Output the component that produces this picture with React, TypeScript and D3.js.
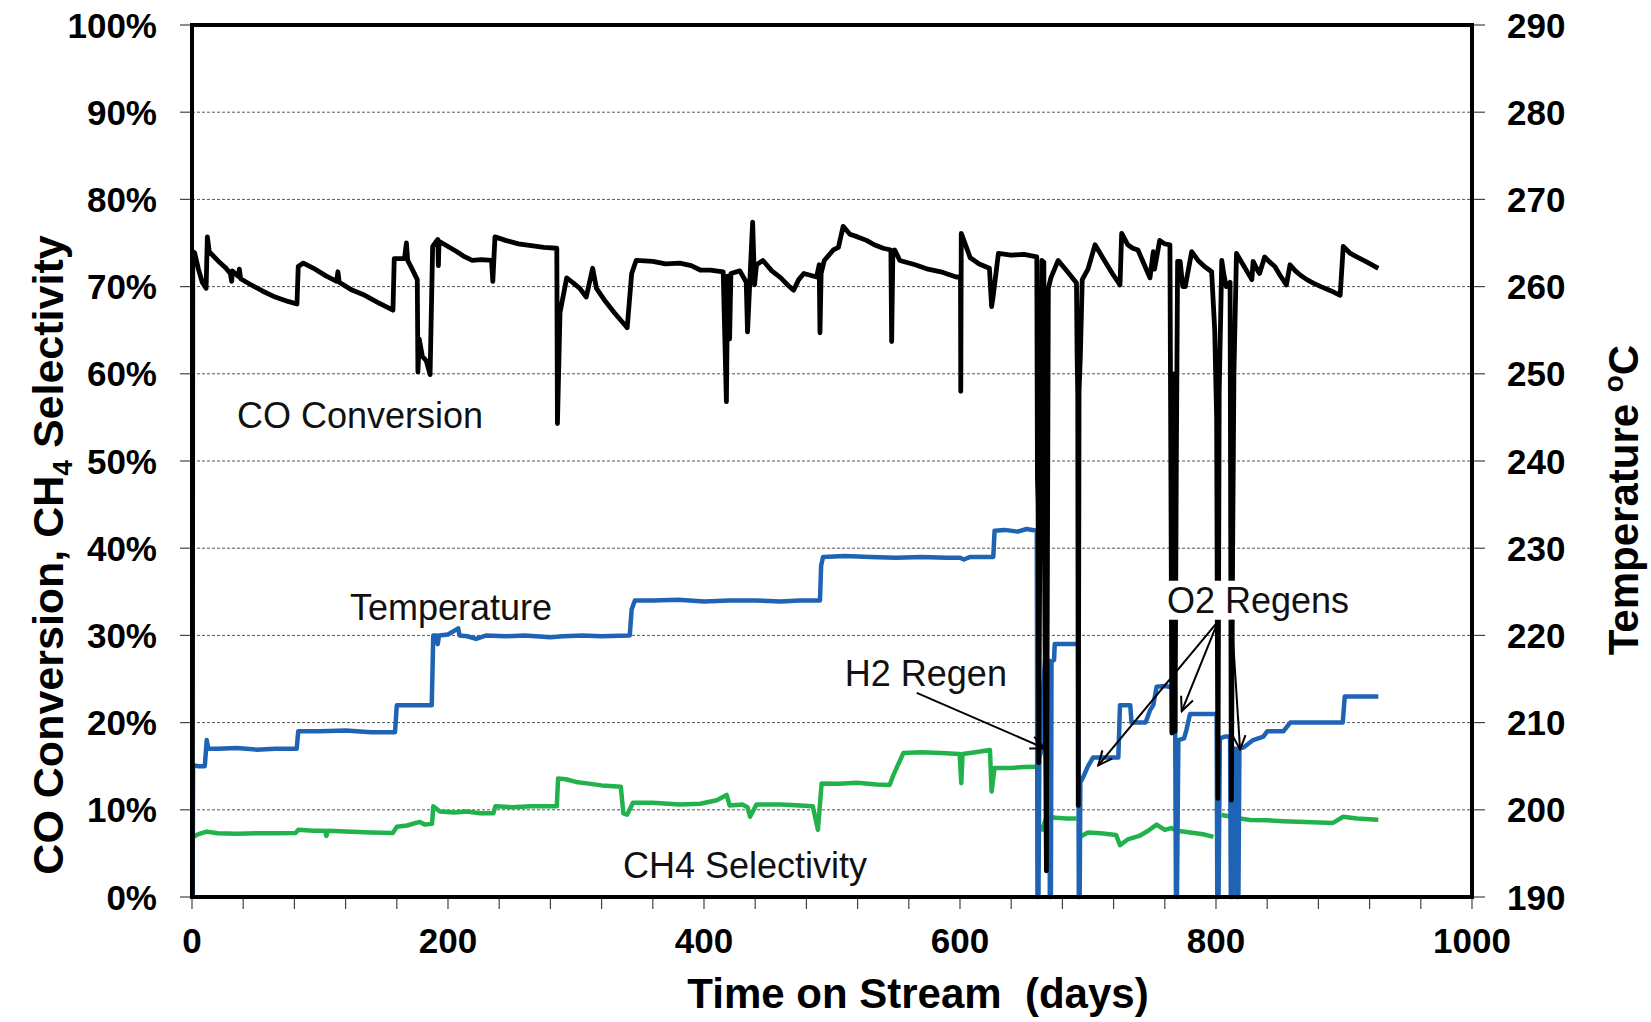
import { useEffect, useRef } from 'react'
import * as d3 from 'd3'

const W = 1651
const H = 1022

// axis ticks
const X_TICKS = [0, 40, 80, 120, 160, 200, 240, 280, 320, 360, 400, 440, 480, 520, 560, 600, 640, 680, 720, 760, 800, 840, 880, 920, 960, 1000]
const X_LABELS = [0, 200, 400, 600, 800, 1000]
const LEFT_TICKS = [0, 10, 20, 30, 40, 50, 60, 70, 80, 90, 100]
const RIGHT_TICKS = [190, 200, 210, 220, 230, 240, 250, 260, 270, 280, 290]

type Pt = [number, number | null]

// CO conversion, % (day, value)
const coConversion: Pt[] = [
  [0.3, 0], [0.6, 74], [2, 73.9], [5, 72], [8, 70.5], [11, 69.8], [12, 75.7], [13.5, 74], [20, 73], [26, 72.2],
  [30, 71.5], [31, 70.6], [31.5, 71.8], [36, 71.2], [37, 72], [38, 70.9], [45, 70.3], [55, 69.5], [65, 68.8],
  [75, 68.3], [82, 68], [83, 72.3], [87, 72.7], [95, 72.1], [105, 71.2], [113, 70.6], [114, 71.7], [115, 70.5],
  [125, 69.6], [135, 69], [145, 68.2], [157, 67.3], [158, 73.2], [166, 73.2], [167.5, 75], [168.5, 73], [172, 72],
  [176, 70.8], [176.5, 60.2], [177.5, 64], [180, 62], [183, 61.5], [186, 59.9], [188, 74.6], [190, 75], [192, 75.4],
  [192.5, 72.4], [193, 75.2], [200, 74.6], [207, 74], [212, 73.5], [219, 73], [226, 73.1], [234, 73], [235, 70.6],
  [236.7, 75.7], [245, 75.3], [255, 74.9], [265, 74.7], [275, 74.5], [285, 74.4], [285.5, 54.3], [287.5, 67],
  [292.7, 71], [298, 70.4], [303, 69.8], [308, 68.8], [313, 72.1], [316, 69.8], [322, 68.5], [330, 67], [337, 65.8],
  [340, 65.3], [343.5, 71.5], [347, 73], [360, 72.9], [370, 72.6], [381, 72.7], [390, 72.4], [397, 71.9], [405, 71.9],
  [415, 71.7], [417.5, 56.8], [418.5, 71.2], [420, 64], [421, 71.5], [428, 71.8], [433, 70.5], [434, 64.8], [436, 71.2],
  [438, 77.4], [439.5, 70.2], [441, 72.5], [446, 73], [453, 71.8], [460, 71], [466, 70.1], [470, 69.6], [474, 70.8],
  [478, 71.5], [488, 71.1], [490, 72.5], [490.6, 64.7], [491.5, 71.5], [494, 73], [501, 74.2], [505, 74.5],
  [508.7, 76.9], [514, 76], [520, 75.7], [527, 75.3], [533, 74.8], [540, 74.4], [546, 74.2], [546.6, 63.7],
  [547.5, 73.4], [549, 74.2], [553, 73], [565, 72.5], [575, 72], [585, 71.7], [597, 71.1], [600.4, 71.1], [600.6, 58],
  [601, 76.1], [608, 73.3], [615, 72.6], [623, 72.1], [624.7, 67.7], [626, 69], [630, 73.8], [640, 73.6], [650, 73.7],
  [660, 73.4], [660.5, 48], [661, 45], [661.5, 15.4], [662.5, 45], [664, 73], [665.5, 72.8], [666, 40], [667.5, 3],
  [669, 69.8], [671, 71], [676.7, 73], [684, 71.7], [691, 70.4], [691.5, 62], [692, 57.5], [692.4, 10.5], [693, 58],
  [694, 62], [695.5, 70.8], [700, 72], [705.5, 74.8], [712, 73.2], [719, 71.5], [725, 70.2], [726.3, 76.1], [731, 74.8],
  [735, 74.4], [739, 74.2], [744, 72.5], [748.4, 71], [751, 74], [752, 72], [756, 75.3], [760, 74.9], [764, 74.8],
  [765, 40], [765.5, 18.8], [767, 60], [768, 19], [769, 50], [770, 72.9], [772, 72.9], [774, 70], [776, 70], [781, 74],
  [786, 73], [791, 72.3], [796.6, 71.7], [799, 65], [800.5, 55], [801.5, 11.3], [802.5, 58], [804.5, 73], [806, 71.5],
  [808, 70], [811, 70.5], [812, 11.1], [813, 40], [814, 60], [816, 73.8], [820, 72.8], [824, 71.8], [828, 70.8],
  [829, 72.9], [832, 72], [834, 71.5], [838, 73.4], [842, 72.8], [846, 72.3], [850, 71.3], [855, 70.2], [857.8, 72.5],
  [862, 71.8], [866, 71.3], [871, 70.8], [876, 70.4], [882, 70], [890, 69.5], [897, 69], [899.4, 74.6], [905, 73.8],
  [910, 73.4], [918, 72.8], [926.8, 72.1],
]

// reactor temperature, °C (day, value)
const temperature: Pt[] = [
  [0.5, 190], [0.8, 205.1], [5, 205], [10, 205], [11.5, 208], [12.7, 207], [20, 207], [35, 207.1], [50, 206.9],
  [65, 207], [81.8, 207], [83, 209], [100, 209], [120, 209.1], [140, 208.9], [158.6, 208.9], [160, 212], [175, 212],
  [187.3, 212], [188.5, 220], [191, 220], [192, 219], [193, 220], [200, 220.1], [208, 220.8], [209, 220], [215, 219.9],
  [222, 219.6], [230, 220], [245, 219.9], [260, 220], [280, 219.8], [290, 219.9], [305, 220], [320, 219.9], [342, 220],
  [343.5, 223], [346, 224], [360, 224], [380, 224.1], [400, 223.9], [420, 224], [440, 224], [460, 223.9], [475, 224],
  [490.6, 224], [491.5, 228], [493, 229], [510, 229.1], [530, 229], [550, 228.9], [570, 229], [590, 228.9], [600, 228.9],
  [603, 228.7], [608, 229], [626, 229], [627, 232], [635, 232.1], [645, 231.9], [652, 232.2], [660, 232], [660.5, 190],
  [661.3, 190], [662, 206], [664, 207], [665, 214], [666.5, 217.1], [669.5, 217.1], [670.2, 190], [671, 190],
  [671.5, 217], [673.5, 217.2], [674, 219], [682, 219], [692.4, 219], [692.8, 190], [693.5, 190], [694, 203.1],
  [697, 204], [700, 205], [704, 206], [710, 206], [723.7, 206], [725, 212], [733, 212], [734, 210], [745, 210],
  [748.4, 211.4], [751, 212], [753.6, 214.1], [760, 214.2], [768, 214], [768.7, 190], [769.5, 190], [770.6, 208],
  [775, 208.2], [777, 209.2], [779.7, 211], [790, 211], [800.5, 211], [801, 190], [802, 190], [803, 208.2], [807, 208.4],
  [811, 208.4], [811.6, 190], [812.6, 190], [813.2, 207], [815.5, 207], [816.2, 190], [817.5, 190], [818.3, 207],
  [822, 207.2], [829, 208], [837, 208.4], [840, 209], [852.6, 209], [858, 210], [870, 210], [885, 210], [899, 210],
  [900.6, 213], [910, 213], [926.8, 213],
]

// CH4 selectivity, % (day, value); null = no data
const ch4Selectivity: Pt[] = [
  [0.5, 6.9], [5, 7.2], [11.5, 7.5], [20, 7.3], [35, 7.25], [50, 7.3], [65, 7.3], [81, 7.35], [83, 7.7], [95, 7.6],
  [104, 7.6], [105, 7.0], [106, 7.6], [120, 7.5], [140, 7.4], [157, 7.35], [160, 8.05], [168, 8.2], [175, 8.5],
  [178, 8.6], [182, 8.3], [187.5, 8.4], [188.5, 10.4], [193.7, 9.8], [205, 9.7], [215, 9.8], [225, 9.6], [235.4, 9.6],
  [237, 10.4], [250, 10.3], [265, 10.4], [285, 10.4], [286, 13.6], [292, 13.5], [300, 13.2], [310, 13], [320, 12.8],
  [335, 12.65], [337, 9.6], [340, 9.45], [344.5, 10.8], [360, 10.8], [381, 10.6], [397, 10.7], [410, 11.1],
  [417.7, 11.7], [420, 10.5], [430, 10.6], [434, 10.3], [436, 9.2], [441, 10.6], [460, 10.6], [475, 10.5], [485, 10.4],
  [489, 7.7], [491.9, 13.03], [505, 13], [520, 13.1], [535, 12.9], [545, 12.85], [548, 14], [555.7, 16.5], [570, 16.6],
  [585, 16.5], [599.7, 16.4], [601, 13.05], [602, 16.4], [612, 16.6], [623.4, 16.85], [624.7, 12.1], [627, 14.8],
  [640, 14.8], [650, 14.9], [660, 14.95], [661, null], [663.6, 7.5], [667.7, 9.2], [675, 9.1], [683, 9.0], [691, 9.0],
  [692, null], [693.8, 6.9], [700, 7.4], [710, 7.3], [722, 7.1], [725, 5.95], [731, 6.6], [740, 7], [747, 7.6],
  [753.6, 8.3], [760, 7.7], [765, 7.9], [769.7, 7.6], [780, 7.4], [790, 7.2], [798, 6.9], [800, null], [804.4, 9.4],
  [812, 9.2], [819, 9.0], [826.6, 8.83], [840, 8.8], [852.6, 8.7], [870, 8.6], [891.4, 8.5], [899.4, 9.2], [910, 9.0],
  [926.8, 8.85],
]

// in-plot labels: [text, day, left-axis %]
const seriesLabels: [string, number, number][] = [
  ['CO Conversion', 35.2, 53.8],
  ['Temperature', 123.4, 31.8],
  ['CH4 Selectivity', 336.7, 2.2],
  ['H2 Regen', 510, 24.2],
]
const o2Label: [string, number, number] = ['O2 Regens', 761.7, 32.6]

// arrows: [fromDay, fromPct, toDay, toPct]
const arrows: [number, number, number, number][] = [
  [566.2, 23.4, 666.2, 17.05],
  [801.6, 31.6, 708, 15.1],
  [801.6, 31.6, 773.2, 21.3],
  [812.3, 31.8, 818.8, 16.9],
]

const FONT = "'Liberation Sans', Arial, Helvetica, sans-serif"

export default function App() {
  const svgRef = useRef<SVGSVGElement | null>(null)

  useEffect(() => {
    document.body.style.margin = '0'
    const node = svgRef.current
    if (!node) return
    const svg = d3.select(node)
    svg.selectAll('*').remove()

    const margin = { top: 25, right: W - 1472, bottom: H - 897, left: 192 }
    const x = d3.scaleLinear().domain([0, 1000]).range([margin.left, W - margin.right])
    const yL = d3.scaleLinear().domain([0, 100]).range([H - margin.bottom, margin.top])
    const yR = d3.scaleLinear().domain([190, 290]).range([H - margin.bottom, margin.top])

    const x0 = x(0), x1 = x(1000), yb = yL(0), yt = yL(100)

    svg.append('defs').append('marker')
      .attr('id', 'arrow').attr('viewBox', '0 0 12 12')
      .attr('refX', 11).attr('refY', 6)
      .attr('markerWidth', 17).attr('markerHeight', 17)
      .attr('markerUnits', 'userSpaceOnUse').attr('orient', 'auto')
      .append('path').attr('d', 'M1,1.5 L11,6 L1,10.5')
      .attr('fill', 'none').attr('stroke', '#000').attr('stroke-width', 1.4)

    // gridlines
    LEFT_TICKS.filter((t) => t > 0 && t < 100).forEach((t) => {
      svg.append('line')
        .attr('x1', x0).attr('x2', x1).attr('y1', yL(t)).attr('y2', yL(t))
        .attr('stroke', '#555').attr('stroke-width', 1).attr('stroke-dasharray', '3,2')
    })

    // ticks
    LEFT_TICKS.forEach((t) => {
      svg.append('line').attr('x1', x0 - 12).attr('x2', x0).attr('y1', yL(t)).attr('y2', yL(t))
        .attr('stroke', '#444').attr('stroke-width', 1.2)
      svg.append('text').attr('x', x0 - 35).attr('y', yL(t)).attr('dy', '0.36em')
        .attr('text-anchor', 'end').attr('font-family', FONT).attr('font-weight', 'bold')
        .attr('font-size', 35).text(`${t}%`)
    })
    RIGHT_TICKS.forEach((t) => {
      svg.append('line').attr('x1', x1).attr('x2', x1 + 13).attr('y1', yR(t)).attr('y2', yR(t))
        .attr('stroke', '#444').attr('stroke-width', 1.2)
      svg.append('text').attr('x', x1 + 35).attr('y', yR(t)).attr('dy', '0.36em')
        .attr('text-anchor', 'start').attr('font-family', FONT).attr('font-weight', 'bold')
        .attr('font-size', 35).text(t)
    })
    X_TICKS.forEach((t) => {
      svg.append('line').attr('x1', x(t)).attr('x2', x(t)).attr('y1', yb).attr('y2', yb + 12)
        .attr('stroke', '#444').attr('stroke-width', 1.2)
    })
    X_LABELS.forEach((t) => {
      svg.append('text').attr('x', x(t)).attr('y', 953)
        .attr('text-anchor', 'middle').attr('font-family', FONT).attr('font-weight', 'bold')
        .attr('font-size', 35).text(t)
    })

    // series
    const lineL = d3.line<Pt>().defined((d) => d[1] != null).x((d) => x(d[0])).y((d) => yL(d[1] as number))
    const lineR = d3.line<Pt>().defined((d) => d[1] != null).x((d) => x(d[0])).y((d) => yR(d[1] as number))

    svg.append('path').datum(ch4Selectivity).attr('d', lineL)
      .attr('fill', 'none').attr('stroke', '#22b24c').attr('stroke-width', 4.5).attr('stroke-linejoin', 'round')
    svg.append('path').datum(temperature).attr('d', lineR)
      .attr('fill', 'none').attr('stroke', '#1f63b4').attr('stroke-width', 4.5).attr('stroke-linejoin', 'round')
    svg.append('path').datum(coConversion).attr('d', lineL)
      .attr('fill', 'none').attr('stroke', '#000').attr('stroke-width', 4.8).attr('stroke-linejoin', 'round')

    // labels
    seriesLabels.forEach(([txt, d, p]) => {
      svg.append('text').attr('x', x(d)).attr('y', yL(p))
        .attr('font-family', FONT).attr('font-size', 36).attr('fill', '#111').text(txt)
    })
    const o2 = svg.append('text').attr('x', x(o2Label[1])).attr('y', yL(o2Label[2]))
      .attr('font-family', FONT).attr('font-size', 36).attr('fill', '#111').text(o2Label[0])
    const bb = (o2.node() as SVGTextElement).getBBox()
    svg.insert('rect', () => o2.node() as SVGTextElement)
      .attr('x', bb.x - 3).attr('y', bb.y + 1).attr('width', bb.width + 6).attr('height', bb.height - 2)
      .attr('fill', '#fff')

    arrows.forEach(([d0, p0, d1, p1]) => {
      svg.append('line').attr('x1', x(d0)).attr('y1', yL(p0)).attr('x2', x(d1)).attr('y2', yL(p1))
        .attr('stroke', '#000').attr('stroke-width', 2).attr('marker-end', 'url(#arrow)')
    })

    // frame
    svg.append('rect').attr('x', x0).attr('y', yt).attr('width', x1 - x0).attr('height', yb - yt)
      .attr('fill', 'none').attr('stroke', '#000').attr('stroke-width', 4)

    // axis titles
    svg.append('text').attr('x', 918).attr('y', 1008)
      .attr('text-anchor', 'middle').attr('font-family', FONT).attr('font-weight', 'bold')
      .attr('font-size', 42).attr('xml:space', 'preserve').style('white-space', 'pre')
      .text('Time on Stream  (days)')

    const lt = svg.append('text').attr('transform', 'translate(63,555) rotate(-90)')
      .attr('text-anchor', 'middle').attr('font-family', FONT).attr('font-weight', 'bold').attr('font-size', 43)
    lt.append('tspan').text('CO Conversion, CH')
    lt.append('tspan').attr('font-size', 28).attr('dy', 9).text('4')
    lt.append('tspan').attr('dy', -9).text(' Selectivity')

    const rt = svg.append('text').attr('transform', 'translate(1638,500) rotate(-90)')
      .attr('text-anchor', 'middle').attr('font-family', FONT).attr('font-weight', 'bold').attr('font-size', 42)
    rt.append('tspan').text('Temperature ')
    rt.append('tspan').attr('font-size', 28).attr('dy', -15).text('o')
    rt.append('tspan').attr('dy', 15).text('C')
  }, [])

  return (
    <svg ref={svgRef} width={W} height={H} style={{ display: 'block', background: '#fff' }} />
  )
}
